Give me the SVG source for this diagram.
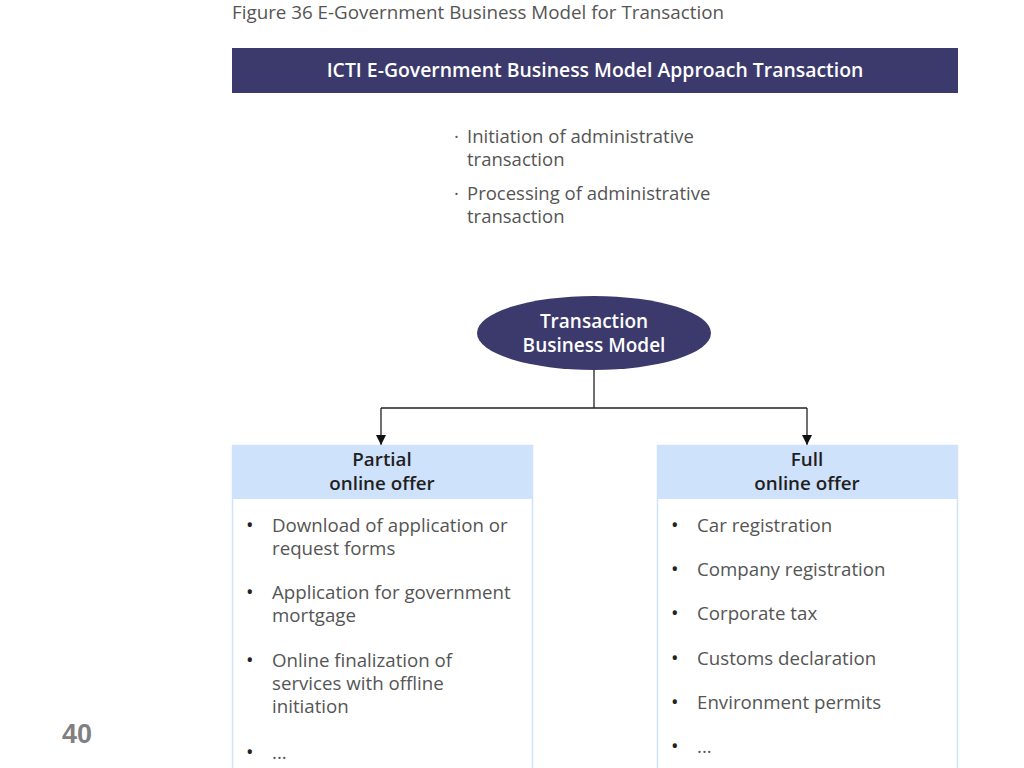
<svg xmlns="http://www.w3.org/2000/svg" width="1024" height="768" viewBox="0 0 1024 768">
<defs>
<style>
text{font-family:"Open Sans","Noto Sans","Liberation Sans",sans-serif;}
.body{font-size:18.7px;fill:#555555;}
.def{font-size:18.5px;fill:#555555;}
.dot{font-size:20px;fill:#222222;}
.hdr{font-size:18.8px;font-weight:600;fill:#1f1f1f;text-anchor:middle;}
.wht{font-size:19px;font-weight:600;fill:#ffffff;text-anchor:middle;}
.dark{fill:#3c3a6c;}
.conn{stroke:#222222;stroke-width:1.3;fill:none;}
</style>
<marker id="arr" viewBox="0 0 10 10" refX="10" refY="5" markerWidth="10" markerHeight="10" markerUnits="userSpaceOnUse" orient="auto">
<path d="M0,0 L10,5 L0,10 z" fill="#111111"/>
</marker>
</defs>
<rect width="1024" height="768" fill="#ffffff"/>
<text id="caption" x="232" y="19" style="font-size:18.8px;fill:#555555">Figure 36 E-Government Business Model for Transaction</text>
<g id="banner">
<rect class="dark" x="232" y="48" width="726" height="45"/>
<text class="wht" x="595" y="77" style="font-size:19.4px">ICTI E-Government Business Model Approach Transaction</text>
</g>
<g id="definition">
<text class="def" x="454" y="143">·</text>
<text class="def" x="467" y="143">Initiation of administrative</text>
<text class="def" x="467" y="166">transaction</text>
<text class="def" x="454" y="200">·</text>
<text class="def" x="467" y="200">Processing of administrative</text>
<text class="def" x="467" y="223">transaction</text>
</g>
<g id="root">
<ellipse class="dark" cx="594" cy="333" rx="117" ry="37"/>
<text class="wht" x="594" y="328">Transaction</text>
<text class="wht" x="594" y="352">Business Model</text>
</g>
<g id="connectors">
<path class="conn" d="M594,370 V408"/>
<path class="conn" d="M381,408 H807"/>
<path class="conn" d="M381,408 V445" marker-end="url(#arr)"/>
<path class="conn" d="M807,408 V445" marker-end="url(#arr)"/>
</g>
<g id="partial">
<rect x="232.5" y="445.5" width="300" height="330" fill="#ffffff" stroke="#cfe2fb" stroke-width="1.5"/>
<rect x="232" y="445" width="301" height="54" fill="#cfe2fb"/>
<text class="hdr" x="382" y="466">Partial</text>
<text class="hdr" x="382" y="490">online offer</text>
<text class="dot" x="246" y="532">•</text>
<text class="body" x="272" y="532">Download of application or</text>
<text class="body" x="272" y="555">request forms</text>
<text class="dot" x="246" y="599">•</text>
<text class="body" x="272" y="599">Application for government</text>
<text class="body" x="272" y="622">mortgage</text>
<text class="dot" x="246" y="667">•</text>
<text class="body" x="272" y="667">Online finalization of</text>
<text class="body" x="272" y="690">services with offline</text>
<text class="body" x="272" y="713">initiation</text>
<text class="dot" x="246" y="759">•</text>
<text class="body" x="272" y="759">...</text>
</g>
<g id="full">
<rect x="657.5" y="445.5" width="300" height="330" fill="#ffffff" stroke="#cfe2fb" stroke-width="1.5"/>
<rect x="657" y="445" width="301" height="54" fill="#cfe2fb"/>
<text class="hdr" x="807" y="466">Full</text>
<text class="hdr" x="807" y="490">online offer</text>
<text class="dot" x="671" y="532">•</text>
<text class="body" x="697" y="532">Car registration</text>
<text class="dot" x="671" y="576">•</text>
<text class="body" x="697" y="576">Company registration</text>
<text class="dot" x="671" y="620">•</text>
<text class="body" x="697" y="620">Corporate tax</text>
<text class="dot" x="671" y="665">•</text>
<text class="body" x="697" y="665">Customs declaration</text>
<text class="dot" x="671" y="709">•</text>
<text class="body" x="697" y="709">Environment permits</text>
<text class="dot" x="671" y="753">•</text>
<text class="body" x="697" y="753">...</text>
</g>
<text id="page" x="62" y="743" style="font-family:'Liberation Sans',Arial,sans-serif;font-size:27px;font-weight:bold;fill:#808080">40</text>
</svg>
